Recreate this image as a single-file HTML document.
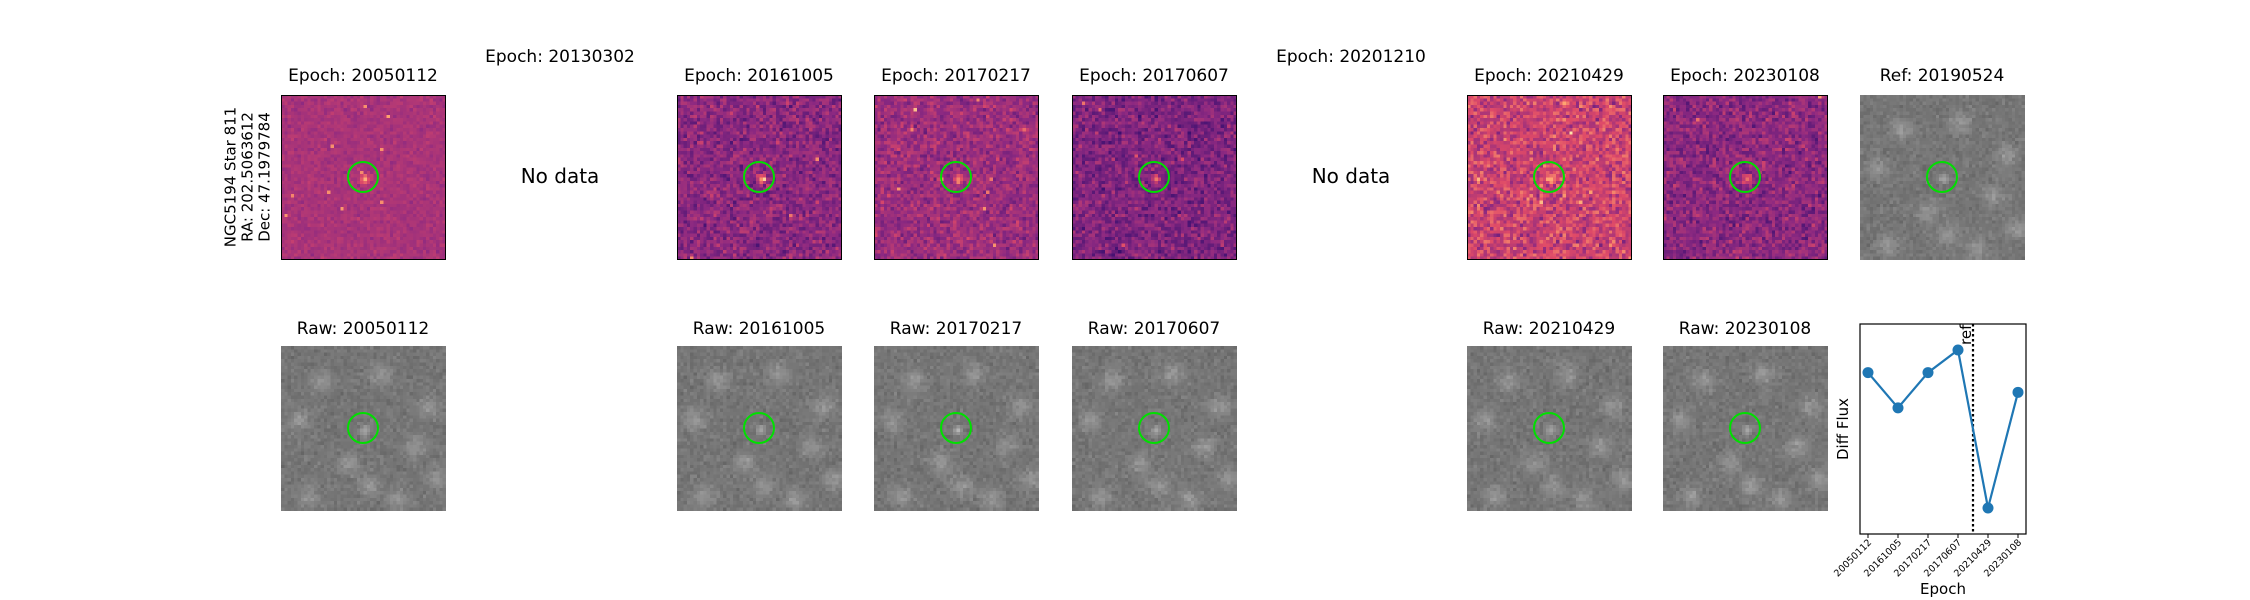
<!DOCTYPE html>
<html><head><meta charset="utf-8"><style>
body{margin:0;background:#fff;}
#root{position:relative;width:2250px;height:600px;overflow:hidden;font-family:"DejaVu Sans","Liberation Sans",sans-serif;color:#000;}
.t{position:absolute;font-size:17px;white-space:nowrap;transform:translateX(-50%);}
canvas.img{position:absolute;width:165px;height:165px;image-rendering:pixelated;}
.frame{position:absolute;width:163px;height:163px;border:1px solid #000;}
.circ{position:absolute;width:32px;height:32px;border:2px solid #00e000;border-radius:50%;box-sizing:border-box;}
.nd{position:absolute;font-size:20px;transform:translate(-50%,-50%);white-space:nowrap;}
</style></head><body>
<div id="root">
<div style="position:absolute;left:248px;top:177px;transform:translate(-50%,-50%) rotate(-90deg);font-size:15px;line-height:17px;text-align:center;white-space:nowrap;">NGC5194 Star 811<br>RA: 202.5063612<br>Dec: 47.1979784</div>
<svg id="chart" style="position:absolute;left:0;top:0" width="2250" height="600"></svg>
</div>
<script>
const epochs=["20050112","20161005","20170217","20170607","20210429","20230108"];
const flux=[0.66,0.41,0.66,0.82,-0.3,0.52];
const refIndex=3.5;
const root=document.getElementById('root');
const cols=[281,478,677,874,1072,1269,1467,1663,1860];
const topEpochs=["20050112","20130302","20161005","20170217","20170607","20201210","20210429","20230108"];
const hasData=[1,0,1,1,1,0,1,1];
const means=[0.47,0,0.40,0.44,0.37,0,0.56,0.40];
const vars=[0.025,0,0.06,0.055,0.06,0,0.08,0.06];
let seed=7;function rnd(){seed=(seed*16807)%2147483647;return seed/2147483647;}
const magma=[[0,0,4],[59,15,112],[140,41,129],[222,73,104],[254,159,109],[252,253,191]];
function cm(v){v=Math.max(0,Math.min(1,v));const p=v*5,i=Math.min(4,Math.floor(p)),f=p-i;const a=magma[i],b=magma[i+1];return `rgb(${a.map((x,k)=>Math.round(x+(b[k]-x)*f)).join(',')})`;}
function g(){return (rnd()+rnd()+rnd()-1.5);}
function mk(x,y,name,fn){const c=document.createElement('canvas');c.width=50;c.height=50;c.className='img';c.style.left=x+'px';c.style.top=y+'px';


const ctx=c.getContext('2d');for(let j=0;j<50;j++)for(let i=0;i<50;i++){ctx.fillStyle=fn(i,j);ctx.fillRect(i,j,1,1);}root.appendChild(c);}
function circ(x,y){const d=document.createElement('div');d.className='circ';d.style.left=(x+82-16)+'px';d.style.top=(y+82-16)+'px';


root.appendChild(d);}
function title(x,y,txt,name){const d=document.createElement('div');d.className='t';d.style.left=(x+82)+'px';d.style.top=y+'px';d.textContent=txt;


root.appendChild(d);}
const stars=[[12,10],[30,8],[40,30],[20,35],[8,45],[35,46],[44,18],[5,22],[26,42],[47,40]];
function gray(i,j){let v=0.46+g()*0.05;for(const s of stars){const d=(i-s[0])**2+(j-s[1])**2;v+=0.12*Math.exp(-d/10);}
const dc=(i-25)**2+(j-25)**2;v+=0.2*Math.exp(-dc/2);const k=Math.round(Math.min(1,v)*255);return `rgb(${k},${k},${k})`;}
topEpochs.forEach((e,k)=>{const x=cols[k];
 if(hasData[k]){title(x,66,'Epoch: '+e,'diff-title-'+e);
  mk(x,95,'diff-image-'+e,(i,j)=>{let v=means[k]+g()*vars[k]*2;const dc=(i-25)**2+(j-25)**2;v+=0.35*Math.exp(-dc/1.5);if(rnd()<0.002)v+=0.3;return cm(v);});
  const f=document.createElement('div');f.className='frame';f.style.left=x+'px';f.style.top='95px';
  
  
  root.appendChild(f);circ(x,95);
  title(x,319,'Raw: '+e,'raw-title-'+e);mk(x,346,'raw-image-'+e,gray);circ(x,346);
 } else {title(x,47,'Epoch: '+e,'epoch-title-'+e);
  const n=document.createElement('div');n.className='nd';n.style.left=(x+82)+'px';n.style.top='176px';n.textContent='No data';
  
  
  root.appendChild(n);}
});
title(1860,66,'Ref: 20190524','ref-title');mk(1860,95,'ref-image',gray);circ(1860,95);
const svg=document.getElementById('chart');const NS='http://www.w3.org/2000/svg';
function el(t,a,name){const e=document.createElementNS(NS,t);for(const k in a)e.setAttribute(k,a[k]);


svg.appendChild(e);return e;}
const L=1860,R=2026,T=324,B=534;
const xS=i=>1868+i*30;
const fmin=Math.min(...flux),fmax=Math.max(...flux),pad=(fmax-fmin)*26/158;
const yS=v=>B-(v-(fmin-pad))/((fmax+pad)-(fmin-pad))*(B-T);
el('line',{x1:xS(refIndex),x2:xS(refIndex),y1:T,y2:B,stroke:'#000','stroke-width':2.2,'stroke-dasharray':'2.5,2.5'},'ref-line');
const rt=el('text',{x:0,y:0,'font-size':15,transform:`translate(${xS(refIndex)-2},${T+21}) rotate(-90)`},'ref-label');rt.textContent='ref';
el('polyline',{points:flux.map((v,i)=>xS(i)+','+yS(v)).join(' '),fill:'none',stroke:'#1f77b4','stroke-width':2.2},'flux-line');
flux.forEach((v,i)=>el('circle',{cx:xS(i),cy:yS(v),r:5.5,fill:'#1f77b4'},'flux-point'));
el('rect',{x:L,y:T,width:R-L,height:B-T,fill:'none',stroke:'#000','stroke-width':1.2},'plot-frame');
epochs.forEach((e,i)=>{el('line',{x1:xS(i),x2:xS(i),y1:B,y2:B+4,stroke:'#000'},'x-tick');
 const t=el('text',{'font-size':9.5,'text-anchor':'end',transform:`translate(${xS(i)+4},${B+9}) rotate(-45)`},'x-tick-label');t.textContent=e;});
const xl=el('text',{x:(L+R)/2,y:594,'font-size':15,'text-anchor':'middle'},'x-axis-title');xl.textContent='Epoch';
const yl=el('text',{'font-size':15,'text-anchor':'middle',transform:`translate(1848,${(T+B)/2}) rotate(-90)`},'y-axis-title');yl.textContent='Diff Flux';
</script>
</body></html>
